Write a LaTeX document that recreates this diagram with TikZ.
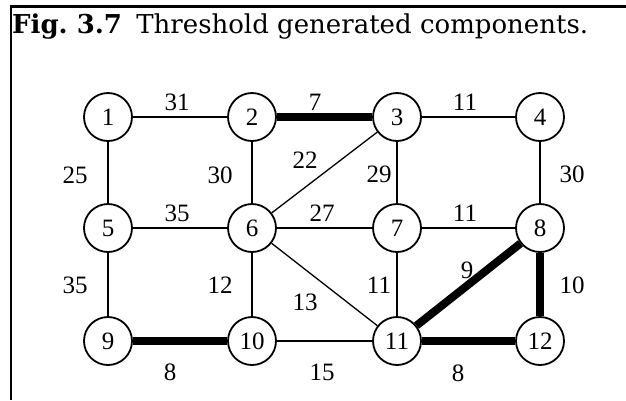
\documentclass[tikz,border=0pt]{standalone}
\usepackage{fontspec}
\setmainfont{Liberation Serif}
\newfontfamily\titlefont{DejaVu Serif}
\begin{document}
\begin{tikzpicture}[x=1pt,y=-1pt,
  vertex/.style={circle,draw,line width=1.8pt,minimum size=48pt,inner sep=0pt,
    font=\fontsize{25}{25}\selectfont},
  lbl/.style={inner sep=0pt,font=\fontsize{25}{25}\selectfont},
  thinedge/.style={line width=1.3pt},
  thickedge/.style={line width=8pt},
  frame/.style={line width=2.6pt}]
\useasboundingbox (0,0) rectangle (626,400);
% frame
\coordinate (tl) at (11,6.5);
\coordinate (tr) at (626,6.5);
\coordinate (bl) at (11,400);
\draw[frame] (tr) -- (tl) -- (bl);
\node[anchor=base west,inner sep=0pt,font=\titlefont\fontsize{26}{26}\selectfont] (title) at (12,33)
  {\frenchspacing\textbf{Fig. 3.7}\hspace{0.55em}Threshold generated components.};
% vertices
\node[vertex] (n1) at (108,117) {1};
\node[vertex] (n2) at (252,117) {2};
\node[vertex] (n3) at (397,117) {3};
\node[vertex] (n4) at (540,117) {4};
\node[vertex] (n5) at (108,228) {5};
\node[vertex] (n6) at (252,228) {6};
\node[vertex] (n7) at (397,228) {7};
\node[vertex] (n8) at (540,228) {8};
\node[vertex] (n9) at (108,341) {9};
\node[vertex] (n10) at (252,341) {10};
\node[vertex] (n11) at (397,341) {11};
\node[vertex] (n12) at (540,341) {12};
% edges
\draw[thinedge] (n1) -- (n2);
\draw[thickedge] (n2) -- (n3);
\draw[thinedge] (n3) -- (n4);
\draw[thinedge] (n1) -- (n5);
\draw[thinedge] (n2) -- (n6);
\draw[thinedge] (n3) -- (n6);
\draw[thinedge] (n3) -- (n7);
\draw[thinedge] (n4) -- (n8);
\draw[thinedge] (n5) -- (n6);
\draw[thinedge] (n6) -- (n7);
\draw[thinedge] (n7) -- (n8);
\draw[thinedge] (n5) -- (n9);
\draw[thinedge] (n6) -- (n10);
\draw[thinedge] (n6) -- (n11);
\draw[thinedge] (n7) -- (n11);
\draw[thickedge] (n8) -- (n11);
\draw[thickedge] (n8) -- (n12);
\draw[thickedge] (n9) -- (n10);
\draw[thinedge] (n10) -- (n11);
\draw[thickedge] (n11) -- (n12);
% labels
\node[lbl] (l12) at (177,102) {31};
\node[lbl] (l23) at (315,102) {7};
\node[lbl] (l34) at (465,102) {11};
\node[lbl] (l15) at (75,175) {25};
\node[lbl] (l26) at (220,175) {30};
\node[lbl] (l36) at (305,160) {22};
\node[lbl] (l37) at (379,174) {29};
\node[lbl] (l48) at (572,174) {30};
\node[lbl] (l56) at (177,213) {35};
\node[lbl] (l67) at (322,213) {27};
\node[lbl] (l78) at (465,213) {11};
\node[lbl] (l59) at (75,285) {35};
\node[lbl] (l610) at (220,285) {12};
\node[lbl] (l611) at (305,302) {13};
\node[lbl] (l711) at (379,285) {11};
\node[lbl] (l811) at (467,270) {9};
\node[lbl] (l812) at (572,285) {10};
\node[lbl] (l910) at (170,372) {8};
\node[lbl] (l1011) at (322,372) {15};
\node[lbl] (l1112) at (458,373) {8};
\end{tikzpicture}
\end{document}
